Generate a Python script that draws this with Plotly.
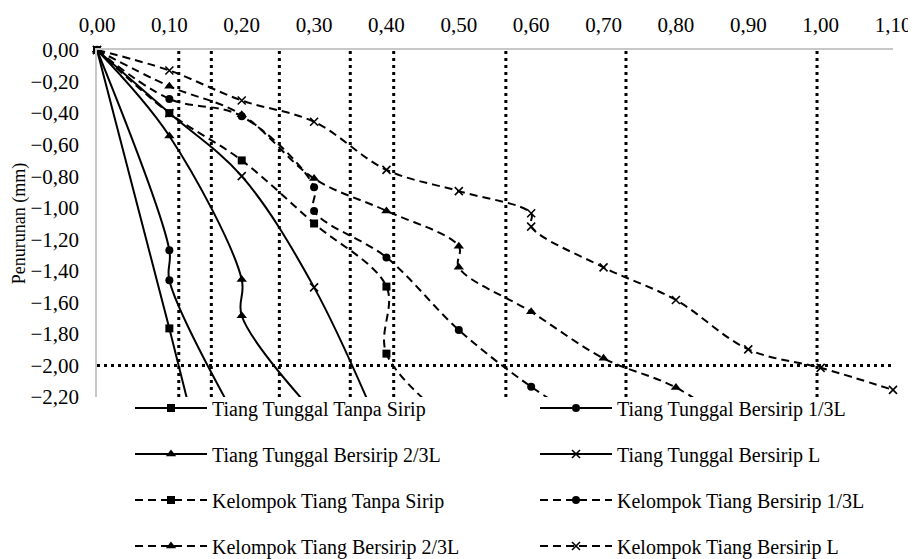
import plotly.graph_objects as go

# ---------------- data ----------------
x_tt_tanpa = [0, 0.1, 0.2]
y_tt_tanpa = [0, -1.765, -3.6]

x_tt_13 = [0, 0.1, 0.1, 0.2]
y_tt_13 = [0, -1.27, -1.46, -2.4]

x_tt_23 = [0, 0.1, 0.2, 0.2, 0.3]
y_tt_23 = [0, -0.545, -1.455, -1.685, -2.3]

x_tt_L = [0, 0.1, 0.2, 0.3, 0.4]
y_tt_L = [0, -0.40, -0.80, -1.505, -2.5]

x_kt_tanpa = [0, 0.1, 0.2, 0.3, 0.4, 0.4, 0.5]
y_kt_tanpa = [0, -0.40, -0.70, -1.10, -1.50, -1.925, -2.4]

x_kt_13 = [0, 0.1, 0.2, 0.3, 0.3, 0.4, 0.5, 0.6, 0.7]
y_kt_13 = [0, -0.31, -0.42, -0.87, -1.02, -1.315, -1.775, -2.135, -2.42]

x_kt_23 = [0, 0.1, 0.2, 0.3, 0.4, 0.5, 0.5, 0.6, 0.7, 0.8, 0.9]
y_kt_23 = [0, -0.23, -0.41, -0.815, -1.02, -1.245, -1.378, -1.66, -1.955, -2.14, -2.45]

x_kt_L = [0, 0.1, 0.2, 0.3, 0.4, 0.5, 0.6, 0.6, 0.7, 0.8, 0.9, 1.0, 1.1]
y_kt_L = [0, -0.13, -0.32, -0.455, -0.76, -0.895, -1.035, -1.12, -1.378, -1.585, -1.898, -2.015, -2.155]

series_names = [
    "Tiang Tunggal Tanpa Sirip",
    "Tiang Tunggal Bersirip 1/3L",
    "Tiang Tunggal Bersirip 2/3L",
    "Tiang Tunggal Bersirip L",
    "Kelompok Tiang Tanpa Sirip",
    "Kelompok Tiang Bersirip 1/3L",
    "Kelompok Tiang Bersirip 2/3L",
    "Kelompok Tiang Bersirip L",
]

# load at which each curve reaches the settlement limit (vertical dotted markers)
ultimate_loads = [0.113, 0.158, 0.252, 0.350, 0.410, 0.565, 0.731, 0.995]
settlement_limit = -2.00

x_range = [0, 1.1]
y_range = [-2.2, 0]

# ---------------- styling ----------------
FONT = "Liberation Serif, Times New Roman, serif"
FS = 20
TICK_FS = 21
symbols = ["square", "circle", "triangle-up", "x-thin"] * 2
dashes = ["solid"] * 4 + ["8px,5px"] * 4
xs = [x_tt_tanpa, x_tt_13, x_tt_23, x_tt_L, x_kt_tanpa, x_kt_13, x_kt_23, x_kt_L]
ys = [y_tt_tanpa, y_tt_13, y_tt_23, y_tt_L, y_kt_tanpa, y_kt_13, y_kt_23, y_kt_L]

fig = go.Figure()

# page has an 8px body margin; figure coordinates = page coordinates - 8
OFF = 8
W, H = 916 - OFF, 559 - OFF
L, R, T, B = 97 - OFF, 893 - OFF, 50 - OFF, 397 - OFF
PW, PH = R - L, B - T

legend_ids = ["legend", "legend2", "legend3", "legend4",
              "legend5", "legend6", "legend7", "legend8"]
row_anchor = [400, 446, 492, 538]   # figure px (legend box middle)
col_x = [122, 527]                  # figure px (legend box left)

for i, (name, x, y) in enumerate(zip(series_names, xs, ys)):
    sym = symbols[i]
    msize = 9 if sym == "triangle-up" else 8
    marker = dict(symbol=sym, size=msize, color="black",
                  line=dict(color="black", width=1.6 if sym == "x-thin" else 0))
    fig.add_trace(go.Scatter(
        x=x, y=y, name=name, mode="lines+markers",
        line=dict(color="black", width=2, dash=dashes[i], shape="spline", smoothing=1),
        marker=marker, cliponaxis=False,
        legend=legend_ids[i],
    ))

# dotted reference lines
for xv in ultimate_loads:
    fig.add_shape(type="line", xref="x", yref="y", x0=xv, x1=xv,
                  y0=y_range[0], y1=y_range[1],
                  line=dict(color="black", width=3, dash="3px,4px"), layer="below")
fig.add_shape(type="line", xref="x", yref="y", x0=x_range[0], x1=x_range[1],
              y0=settlement_limit, y1=settlement_limit,
              line=dict(color="black", width=3, dash="3px,4px"), layer="below")

layout_legends = {}
for i, lid in enumerate(legend_ids):
    r = i // 2
    c = i % 2
    layout_legends[lid] = dict(
        x=(col_x[c] - L) / PW, y=(B - row_anchor[r]) / PH,
        xanchor="left", yanchor="middle", orientation="h",
        font=dict(family=FONT, size=FS, color="black"),
        bgcolor="rgba(0,0,0,0)", borderwidth=0, itemwidth=72,
    )

fig.update_layout(
    width=W, height=H, autosize=False,
    margin=dict(l=L, r=W - R, t=T, b=H - B, pad=0, autoexpand=False),
    paper_bgcolor="white", plot_bgcolor="white",
    separators=",.",
    font=dict(family=FONT, size=FS, color="black"),
    showlegend=True,
    **layout_legends,
)

fig.update_xaxes(
    range=x_range, side="top", dtick=0.1, tick0=0, tickformat=".2f",
    showgrid=False, zeroline=False, showline=True, linecolor="#C8C8C8", linewidth=1.5,
    ticks="", ticklabelstandoff=8, automargin=False,
    tickfont=dict(family=FONT, size=TICK_FS, color="black"),
)
fig.update_yaxes(
    range=y_range, dtick=0.2, tick0=0, tickformat=".2f",
    showgrid=False, zeroline=False, showline=True, linecolor="#C8C8C8", linewidth=1.5,
    ticks="", ticklabelstandoff=12, automargin=False,
    tickfont=dict(family=FONT, size=TICK_FS, color="black"),
    title=dict(text="Penurunan (mm)", font=dict(family=FONT, size=18, color="black"), standoff=0),
)

fig.write_html("out.html")
